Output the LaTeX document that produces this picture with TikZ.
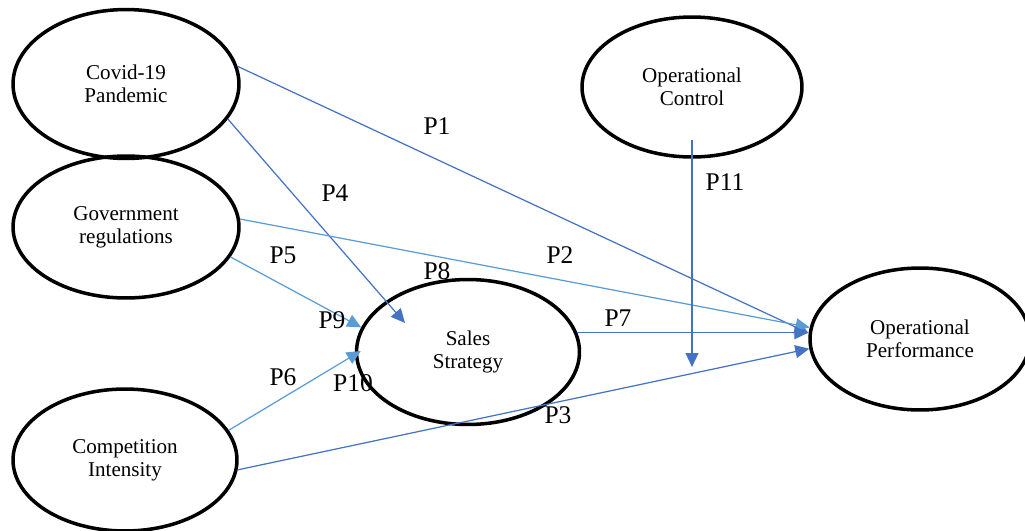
\documentclass[tikz,border=0pt]{standalone}
\usepackage{fontspec}
\setmainfont{Liberation Serif}
\usetikzlibrary{arrows.meta,shapes.geometric,calc}
\definecolor{linedark}{RGB}{68,114,196}
\definecolor{linelight}{RGB}{91,155,213}

\begin{document}
\begin{tikzpicture}[x=0.02cm,y=-0.02cm]
\tikzstyle{construct} = [ellipse, draw=black, line width=2pt, inner sep=0pt,
align=center, font=\fontsize{12}{13}\selectfont]
\tikzstyle{line} = [draw=linedark, line width=0.7pt,
-{Triangle[length=0.28cm,width=0.26cm]}]
\tikzstyle{line_light} = [line, draw=linelight]
\tikzstyle{plabel} = [inner sep=0pt, font=\fontsize{14.5}{16}\selectfont]

\useasboundingbox (0,0) rectangle (1025,531);
\clip (0,0) rectangle (1025,531);

% left column
\node [construct, minimum width=4.52cm, minimum height=2.98cm] (covid) at (126,84) {Covid-19\\Pandemic};
\node [construct, minimum width=4.52cm, minimum height=2.84cm] (gov) at (126,227) {Government\\regulations};
\node [construct, minimum width=4.48cm, minimum height=2.84cm] (comp) at (125,460) {Competition\\Intensity};
% middle and right
\node [construct, minimum width=4.46cm, minimum height=2.9cm] (sales) at (468,352) {Sales\\Strategy};
\node [construct, minimum width=4.4cm, minimum height=2.8cm] (opctrl) at (692,87) {Operational\\Control};
\node [construct, minimum width=4.4cm, minimum height=2.84cm] (opperf) at (920,339) {Operational\\Performance};
\coordinate (p11end) at (692,367);

\path [line] (covid.9) -- (opperf.177);
\path [line] (covid.-19) -- ($(sales)+(-63,-29)$);
\path [line_light] (gov.4) -- (opperf.174);
\path [line_light] (gov.-16) -- (sales.167);
\path [line_light] (comp.16) -- ($(sales.west)+(6,-1)$);
\path [line] (comp.-5) -- (opperf.185);
\path [line] (sales.10) -- (sales.10 -| opperf.west);
\path [line] ($(opctrl.south)+(0,-19)$) -- (p11end);

% path labels
\node [plabel] (p1) at (437,126) {P1};
\node [plabel] (p2) at (560,255) {P2};
\node [plabel] (p3) at (558,415) {P3};
\node [plabel] (p4) at (335,193) {P4};
\node [plabel] (p5) at (283,255) {P5};
\node [plabel] (p6) at (283,377) {P6};
\node [plabel] (p7) at (618,318) {P7};
\node [plabel] (p8) at (437,271) {P8};
\node [plabel] (p9) at (332,320) {P9};
\node [plabel] (p10) at (353,383) {P10};
\node [plabel] (p11) at (725,182) {P11};
\end{tikzpicture}
\end{document}
